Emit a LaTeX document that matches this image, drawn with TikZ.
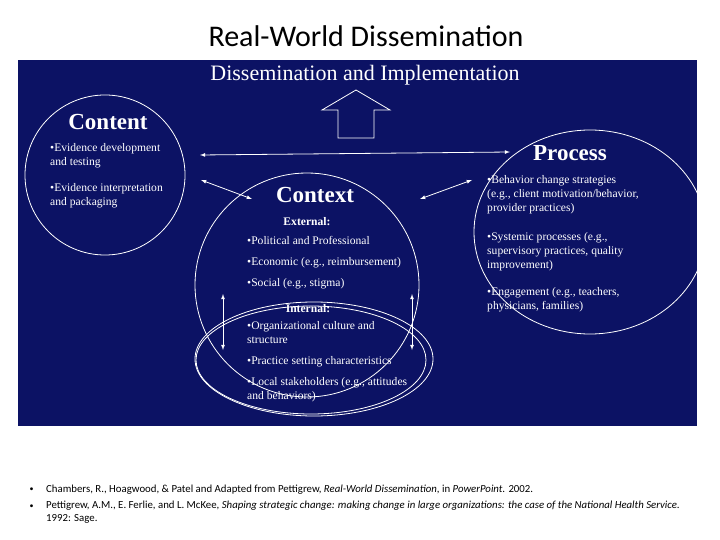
\documentclass[tikz,border=0pt]{standalone}
\usepackage{fontspec}
\setmainfont{Liberation Serif}
\newfontfamily\calfont{Carlito}
\begin{document}
\begin{tikzpicture}[x=1pt,y=-1pt,
 txt/.style={text=white,font=\fontsize{11.6}{14}\selectfont,anchor=north west,align=left,inner sep=0},
 hd/.style={text=white,font=\bfseries\fontsize{23}{26}\selectfont,inner sep=0},
 sub/.style={text=white,font=\bfseries\fontsize{11.6}{14}\selectfont,inner sep=0},
 ln/.style={draw=white,line width=0.8pt},
 arr/.style={ln,<->,>=latex}]
\useasboundingbox (0,0) rectangle (720,540);
\fill[white] (0,0) rectangle (720,540);
\node[font=\calfont\fontsize{30}{34}\selectfont] (title) at (366,36) {Real-World Dissemination};
\fill[fill={rgb,255:red,12;green,18;blue,100}] (18,60) rectangle (697,426);
\begin{scope}
\clip (18,60) rectangle (697,426);
\node[text=white,font=\fontsize{22}{25}\selectfont,inner sep=0] (dh) at (365,75) {Dissemination and Implementation};
\draw[ln] (105,175) circle (80);
\draw[ln] (307,285) circle (112);
\draw[ln] (314,359) ellipse (119 and 57);
\draw[ln] (311,360) ellipse (115 and 54);
\draw[ln] (590,232) ellipse (116 and 102);
\draw[ln] (338,138) -- (338,110) -- (322,110) -- (356,90) -- (390,110) -- (374,110) -- (374,138) -- cycle;
\coordinate (h1) at (200,155); \coordinate (h2) at (510,152);
\draw[arr] (h1) -- (h2);
\coordinate (d1) at (201,180); \coordinate (d2) at (252,199);
\draw[arr] (d1) -- (d2);
\coordinate (d3) at (472,180); \coordinate (d4) at (420,199);
\draw[arr] (d3) -- (d4);
\coordinate (v1) at (223,294); \coordinate (v2) at (223,350);
\draw[arr] (v1) -- (v2);
\coordinate (v3) at (412,294); \coordinate (v4) at (412,350);
\draw[arr] (v3) -- (v4);
\node[hd] (content) at (108,122) {Content};
\node[txt] (c1) at (50,143) {\textbullet Evidence development\\and testing};
\node[txt] (c2) at (50,183) {\textbullet Evidence interpretation\\and packaging};
\node[hd] (context) at (315,195) {Context};
\node[sub] (ext) at (307,222) {External:};
\node[txt] (e1) at (247,236) {\textbullet Political and Professional};
\node[txt] (e2) at (247,257) {\textbullet Economic (e.g., reimbursement)};
\node[txt] (e3) at (247,278) {\textbullet Social (e.g., stigma)};
\node[sub] (int) at (308,309) {Internal:};
\node[txt] (i1) at (247,321) {\textbullet Organizational culture and\\structure};
\node[txt] (i2) at (247,356) {\textbullet Practice setting characteristics};
\node[txt] (i3) at (247,377) {\textbullet Local stakeholders (e.g., attitudes\\and behaviors)};
\node[hd] (process) at (570,153) {Process};
\node[txt] (p1) at (487,175) {\textbullet Behavior change strategies\\(e.g., client motivation/behavior,\\provider practices)};
\node[txt] (p2) at (487,232) {\textbullet Systemic processes (e.g.,\\supervisory practices, quality\\improvement)};
\node[txt] (p3) at (487,287) {\textbullet Engagement (e.g., teachers,\\physicians, families)};
\end{scope}
\node[font=\calfont\fontsize{8}{9}\selectfont,anchor=west] (b1) at (26,490) {\textbullet};
\node[font=\calfont\fontsize{8}{9}\selectfont,anchor=west] (b2) at (26,507) {\textbullet};
\node[font=\calfont\fontsize{10.8}{13}\selectfont,anchor=west,inner sep=0] (r1) at (46,490) {Chambers, R., Hoagwood, \& Patel and Adapted from Pettigrew, \textit{Real-World Dissemination}, in \textit{PowerPoint.} 2002.};
\node[font=\calfont\fontsize{10.8}{13}\selectfont,anchor=north west,align=left,inner sep=0] (r2) at (46,501) {Pettigrew, A.M., E. Ferlie, and L. McKee, \textit{Shaping strategic change: making change in large organizations: the case of the National Health Service.}\\1992: Sage.};
\end{tikzpicture}
\end{document}
